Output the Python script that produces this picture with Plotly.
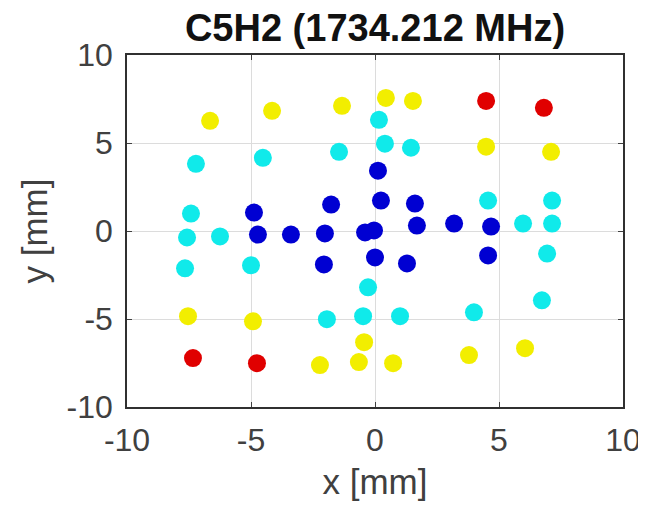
import plotly.graph_objects as go

# point positions in mm, grouped by marker colour
red_x = [4.48, 6.81, -7.34, -4.76]
red_y = [7.39, 7.0, -7.22, -7.51]

yellow_x = [-6.65, -4.15, -1.33, 0.44, 1.53, 4.48, 7.1, -7.54, -4.92, -0.44, -0.65, -2.22, 0.73, 3.79, 6.05]
yellow_y = [6.26, 6.83, 7.11, 7.56, 7.39, 4.79, 4.5, -4.84, -5.13, -6.32, -7.45, -7.62, -7.51, -7.05, -6.66]

cyan_x = [-7.22, -4.52, -1.45, 0.16, 0.4, 1.45, 4.56, 7.14, -7.42, -7.58, -6.25, -7.66, -5.0,
          -0.28, -1.94, -0.48, 1.01, 3.99, 6.73, 5.97, 7.14, 6.94]
cyan_y = [3.82, 4.16, 4.5, 6.32, 4.96, 4.73, 1.73, 1.73, 0.99, -0.37, -0.31, -2.12, -1.95,
          -3.2, -5.01, -4.84, -4.84, -4.62, -3.94, 0.42, 0.42, -1.28]

blue_x = [-4.88, -4.72, -3.39, -2.02, -1.77, -2.06, -0.4, -0.04, 0.12, 0.24, 0.0, 1.29, 1.61, 1.69, 3.19, 4.68, 4.56]
blue_y = [1.05, -0.2, -0.2, -0.14, 1.5, -1.9, -0.08, 0.03, 3.43, 1.73, -1.5, -1.84, 1.56, 0.31, 0.42, 0.25, -1.39]

tick_vals = [-10, -5, 0, 5, 10]
tick_text = ["-10", "-5", "0", "5", "10"]

groups = [
    (yellow_x, yellow_y, "#F2EE00"),
    (cyan_x, cyan_y, "#10EAEA"),
    (blue_x, blue_y, "#0000D2"),
    (red_x, red_y, "#E00000"),
]

fig = go.Figure()
for gx, gy, col in groups:
    fig.add_trace(go.Scatter(
        x=gx, y=gy, mode="markers",
        marker=dict(size=18, color=col, line=dict(width=0)),
        showlegend=False,
    ))

axis_style = dict(
    range=[-10, 10],
    tickvals=tick_vals,
    ticktext=tick_text,
    ticks="inside",
    ticklen=5,
    tickcolor="#404040",
    showline=True,
    linecolor="#303030",
    linewidth=1.5,
    mirror="ticks",
    showgrid=True,
    gridcolor="#DCDCDC",
    gridwidth=1,
    zeroline=False,
    tickfont=dict(family="Liberation Sans", size=32, color="#404040"),
)

fig.update_layout(
    width=638,
    height=510,
    margin=dict(l=119, r=23, t=47, b=111, autoexpand=False),
    paper_bgcolor="white",
    plot_bgcolor="white",
    title=dict(
        text="<b>C5H2 (1734.212 MHz)</b>",
        x=0.5, xref="paper", xanchor="center",
        y=1 - 20 / 510, yanchor="middle",
        font=dict(family="Liberation Sans", size=38, color="#111111"),
    ),
    xaxis=dict(
        **axis_style,
        ticklabelstandoff=4,
        title=dict(text="x [mm]", standoff=12,
                   font=dict(family="Liberation Sans", size=35, color="#404040")),
    ),
    yaxis=dict(
        **axis_style,
        ticklabelstandoff=6,
        title=dict(text="y [mm]", standoff=8,
                   font=dict(family="Liberation Sans", size=35, color="#404040")),
    ),
)

fig.write_html("out.html")
